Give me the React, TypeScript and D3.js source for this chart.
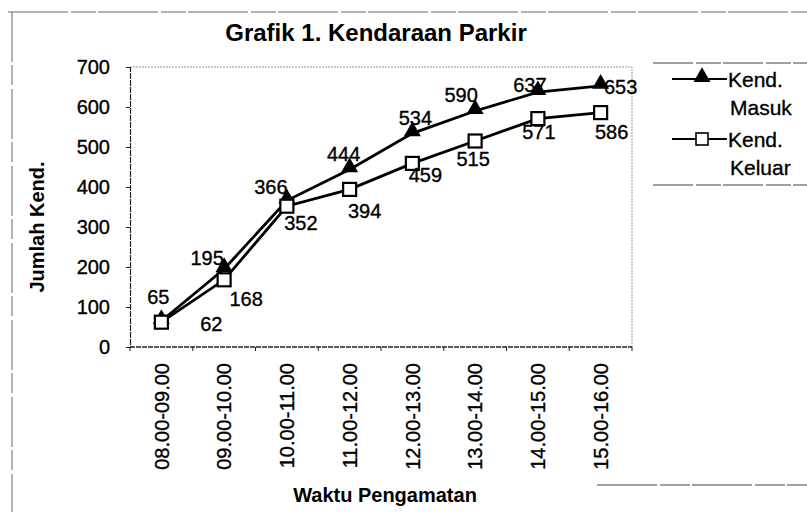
import React, { useEffect, useRef } from 'react';
import * as d3 from 'd3';

const categories = ['08.00-09.00', '09.00-10.00', '10.00-11.00', '11.00-12.00', '12.00-13.00', '13.00-14.00', '14.00-15.00', '15.00-16.00'];
const masuk = [65, 195, 366, 444, 534, 590, 637, 653];
const keluar = [62, 168, 352, 394, 459, 515, 571, 586];
const yTicks = [0, 100, 200, 300, 400, 500, 600, 700];
const seriesNames = [['Kend.', 'Masuk'], ['Kend.', 'Keluar']];

// hand placed label offsets (dx, dy) like in the original sheet
const masukLabelOffsets = [[-3, -24], [-17, -11], [-16, -14], [-6, -16], [3, -16], [-14, -16], [-8, -7], [20, 1]];
const keluarLabelOffsets = [[50, 2], [22, 19], [14, 17], [15, 21], [13, 11], [-2, 18], [1, 13], [11, 19]];

const FONT = '"Liberation Sans", Arial, sans-serif';

const App = () => {
    const svgRef = useRef<SVGSVGElement>(null);

    useEffect(() => {
        const svg = d3.select(svgRef.current);
        svg.selectAll('*').remove();

        const width = 807;
        const height = 512;
        const plot = { left: 130, right: 632, top: 67, bottom: 347 };

        svg.append('rect').attr('width', width).attr('height', height).attr('fill', '#fff');

        const x = d3.scaleBand<string>()
            .domain(categories)
            .range([plot.left, plot.right])
            .padding(0);
        const cx = (i: number) => (x(categories[i]) as number) + x.bandwidth() / 2;

        const y = d3.scaleLinear()
            .domain([0, 700])
            .range([plot.bottom, plot.top]);

        // scanned text looks a bit heavier
        const ink = (sel: any) => sel.attr('fill', '#000').attr('stroke', '#000').attr('stroke-width', 0.35);

        // outer chart border (scanned, partly faded)
        svg.append('line')
            .attr('x1', 8).attr('x2', width).attr('y1', 12).attr('y2', 12)
            .attr('stroke', '#666').attr('stroke-width', 1).attr('stroke-dasharray', '60 3 25 2');
        svg.append('line')
            .attr('x1', 12).attr('x2', 12).attr('y1', 12).attr('y2', height)
            .attr('stroke', '#666').attr('stroke-width', 1).attr('stroke-dasharray', '50 3 20 4');
        svg.append('line')
            .attr('x1', 597).attr('x2', width).attr('y1', 485).attr('y2', 485)
            .attr('stroke', '#444').attr('stroke-width', 1.2).attr('stroke-dasharray', '60 3 30 2');

        // plot area border
        svg.append('path')
            .attr('d', `M${plot.left},${plot.top}H${plot.right}V${plot.bottom}`)
            .attr('fill', 'none')
            .attr('stroke', '#999')
            .attr('stroke-width', 1)
            .attr('stroke-dasharray', '2 1');

        // title
        svg.append('text')
            .attr('x', 376).attr('y', 41)
            .attr('text-anchor', 'middle')
            .attr('font-family', FONT).attr('font-weight', 'bold').attr('font-size', 24)
            .text('Grafik 1. Kendaraan Parkir');

        // y axis
        const yAxis = d3.axisLeft(y).tickValues(yTicks).tickSize(4).tickPadding(16);
        const gy = svg.append('g')
            .attr('transform', `translate(${plot.left},0)`)
            .call(yAxis);
        gy.select('.domain').attr('stroke', '#222').attr('stroke-width', 1.2).attr('stroke-dasharray', '6 1');
        gy.selectAll('line').attr('stroke', '#222');
        gy.selectAll('text')
            .attr('font-family', FONT).attr('font-size', 20).call(ink);

        // x axis: ticks between categories
        svg.append('line')
            .attr('x1', plot.left).attr('x2', plot.right)
            .attr('y1', plot.bottom).attr('y2', plot.bottom)
            .attr('stroke', '#222').attr('stroke-width', 1.6).attr('stroke-dasharray', '5 1');
        svg.selectAll('.xtick')
            .data(d3.range(categories.length + 1))
            .enter().append('line')
            .attr('class', 'xtick')
            .attr('x1', i => plot.left + i * x.bandwidth())
            .attr('x2', i => plot.left + i * x.bandwidth())
            .attr('y1', plot.bottom).attr('y2', plot.bottom + 4)
            .attr('stroke', '#222');
        svg.selectAll('.xlabel')
            .data(categories)
            .enter().append('text')
            .attr('class', 'xlabel')
            .attr('transform', (_, i) => `translate(${cx(i)},${plot.bottom + 16}) rotate(-90)`)
            .attr('text-anchor', 'end')
            .attr('dy', '0.36em')
            .attr('font-family', FONT).attr('font-size', 20)
            .call(ink)
            .text(d => d);

        // axis titles
        svg.append('text')
            .attr('x', 385).attr('y', 502)
            .attr('text-anchor', 'middle')
            .attr('font-family', FONT).attr('font-weight', 'bold').attr('font-size', 20)
            .text('Waktu Pengamatan');
        svg.append('text')
            .attr('transform', 'translate(44,227) rotate(-90)')
            .attr('text-anchor', 'middle')
            .attr('font-family', FONT).attr('font-weight', 'bold').attr('font-size', 20)
            .text('Jumlah Kend.');

        const line = d3.line<number>()
            .x((_, i) => cx(i))
            .y(d => y(d));

        const triangle = d3.symbol().type(d3.symbolTriangle).size(125);

        // Keluar
        svg.append('path')
            .datum(keluar)
            .attr('d', line)
            .attr('fill', 'none')
            .attr('stroke', '#000')
            .attr('stroke-width', 2.8);
        // Masuk
        svg.append('path')
            .datum(masuk)
            .attr('d', line)
            .attr('fill', 'none')
            .attr('stroke', '#000')
            .attr('stroke-width', 2.8);

        svg.selectAll('.tri')
            .data(masuk)
            .enter().append('path')
            .attr('class', 'tri')
            .attr('d', triangle)
            .attr('transform', (d, i) => `translate(${cx(i)},${y(d) - 2})`)
            .attr('fill', '#000');

        svg.selectAll('.sq')
            .data(keluar)
            .enter().append('rect')
            .attr('class', 'sq')
            .attr('x', (_, i) => cx(i) - 6.5)
            .attr('y', d => y(d) - 6.5)
            .attr('width', 13).attr('height', 13)
            .attr('fill', '#fff')
            .attr('stroke', '#000')
            .attr('stroke-width', 2.2);

        // data labels
        svg.selectAll('.lblm')
            .data(masuk)
            .enter().append('text')
            .attr('class', 'lblm')
            .attr('x', (_, i) => cx(i) + masukLabelOffsets[i][0])
            .attr('y', (d, i) => y(d) + masukLabelOffsets[i][1])
            .attr('dy', '0.36em')
            .attr('text-anchor', 'middle')
            .attr('font-family', FONT).attr('font-size', 20)
            .call(ink)
            .text(d => d);
        svg.selectAll('.lblk')
            .data(keluar)
            .enter().append('text')
            .attr('class', 'lblk')
            .attr('x', (_, i) => cx(i) + keluarLabelOffsets[i][0])
            .attr('y', (d, i) => y(d) + keluarLabelOffsets[i][1])
            .attr('dy', '0.36em')
            .attr('text-anchor', 'middle')
            .attr('font-family', FONT).attr('font-size', 20)
            .call(ink)
            .text(d => d);

        // Legend
        const legend = svg.append('g');
        legend.append('line')
            .attr('x1', 653).attr('x2', width).attr('y1', 63).attr('y2', 63)
            .attr('stroke', '#444').attr('stroke-width', 1.2).attr('stroke-dasharray', '40 3 25 2');
        legend.append('line')
            .attr('x1', 653).attr('x2', width).attr('y1', 185).attr('y2', 185)
            .attr('stroke', '#444').attr('stroke-width', 1.2).attr('stroke-dasharray', '40 3 25 2');

        const entries = legend.selectAll('.entry')
            .data(seriesNames)
            .enter().append('g')
            .attr('class', 'entry')
            .attr('transform', (_, i) => `translate(0,${i === 0 ? 79 : 139})`);
        entries.append('line')
            .attr('x1', 672).attr('x2', 727)
            .attr('stroke', '#000').attr('stroke-width', 2);
        entries.filter((_, i) => i === 0).append('path')
            .attr('d', triangle)
            .attr('transform', 'translate(702,-2)')
            .attr('fill', '#000');
        entries.filter((_, i) => i === 1).append('rect')
            .attr('x', 696).attr('y', -6).attr('width', 12).attr('height', 12)
            .attr('fill', '#fff').attr('stroke', '#000').attr('stroke-width', 1.6);
        entries.append('text')
            .attr('x', 728).attr('dy', '0.36em')
            .attr('font-family', FONT).attr('font-size', 21)
            .call(ink)
            .text(d => d[0]);
        entries.append('text')
            .attr('x', 730).attr('y', 28).attr('dy', '0.36em')
            .attr('font-family', FONT).attr('font-size', 21)
            .call(ink)
            .text(d => d[1]);
    }, []);

    return (
        <svg ref={svgRef} width={807} height={512}
            style={{ position: 'absolute', left: 0, top: 0, display: 'block' }}></svg>
    );
};

export default App;
